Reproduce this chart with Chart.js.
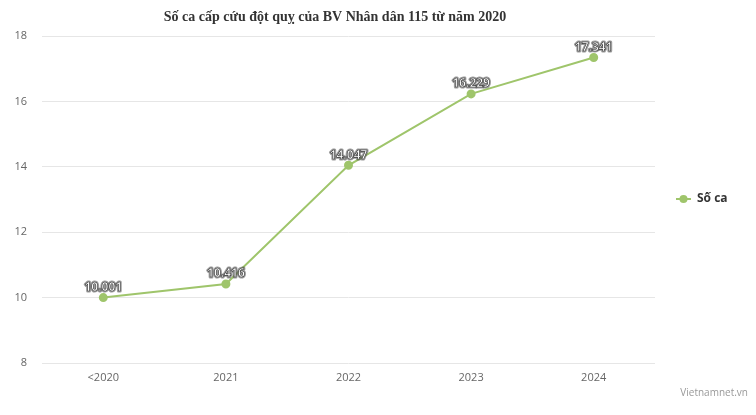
<!DOCTYPE html>
<html><head><meta charset="utf-8">
<script src="https://cdn.jsdelivr.net/npm/chart.js@4"></script>
<style>html,body{margin:0;padding:0;background:#fff}#wrap{width:756px;height:415px}</style>
</head><body><div id="wrap"><canvas id="c" width="756" height="415"></canvas></div>
<script>
const categories = ['<2020', '2021', '2022', '2023', '2024'];
const seriesName = 'Số ca';
const values = [10.001, 10.416, 14.047, 16.229, 17.341];
const yTicks = [8, 10, 12, 14, 16, 18];
const titleText = 'Số ca cấp cứu đột quỵ của BV Nhân dân 115 từ năm 2020';
const creditText = 'Vietnamnet.vn';
const lineColor = '#9fc56b';

const extras = {
  id: 'extras',
  afterDatasetsDraw(chart) {
    const ctx = chart.ctx;
    const meta = chart.getDatasetMeta(0);
    ctx.save();
    ctx.font = 'bold 12px "Open Sans", sans-serif';
    ctx.textAlign = 'center';
    ctx.textBaseline = 'middle';
    ctx.lineJoin = 'round';
    meta.data.forEach((pt, i) => {
      const t = values[i].toFixed(3);
      ctx.lineWidth = 3;
      ctx.strokeStyle = 'rgba(90,90,90,0.6)';
      ctx.strokeText(t, pt.x, pt.y - 10);
      ctx.fillStyle = '#fff';
      ctx.fillText(t, pt.x, pt.y - 10);
      ctx.lineWidth = 0.6;
      ctx.strokeStyle = '#333';
      ctx.strokeText(t, pt.x, pt.y - 10);
    });
    // title
    ctx.font = 'bold 14px "Liberation Serif", "Times New Roman", serif';
    ctx.fillStyle = '#333';
    ctx.fillText(titleText, 335, 17);
    // legend
    const ds = chart.data.datasets[0];
    ctx.strokeStyle = ds.borderColor;
    ctx.lineWidth = 2;
    ctx.beginPath(); ctx.moveTo(676, 199); ctx.lineTo(691, 199); ctx.stroke();
    ctx.fillStyle = ds.borderColor;
    ctx.beginPath(); ctx.arc(683.5, 199, 4, 0, Math.PI * 2); ctx.fill();
    ctx.font = 'bold 12px "Open Sans", sans-serif';
    ctx.fillStyle = '#333';
    ctx.textAlign = 'left';
    ctx.fillText(ds.label, 697, 199);
    // credit
    ctx.font = '10px "Open Sans", sans-serif';
    ctx.fillStyle = '#999';
    ctx.textAlign = 'right';
    ctx.fillText(creditText, 748, 393);
    ctx.restore();
  }
};

new Chart(document.getElementById('c'), {
  type: 'line',
  data: {
    labels: categories,
    datasets: [{
      label: seriesName,
      data: values,
      borderColor: lineColor,
      backgroundColor: lineColor,
      pointBackgroundColor: lineColor,
      pointBorderColor: lineColor,
      borderWidth: 2,
      pointRadius: 3.5,
      tension: 0,
      fill: false
    }]
  },
  options: {
    responsive: false,
    animation: false,
    devicePixelRatio: 1,
    layout: { padding: { top: 36, right: 101, left: 0, bottom: 0 } },
    plugins: { legend: { display: false }, title: { display: false }, tooltip: { enabled: false } },
    scales: {
      x: {
        offset: true,
        grid: { display: false, drawTicks: false },
        border: { display: false },
        ticks: { color: '#666', font: { size: 11, family: '"Open Sans", sans-serif' }, padding: 8 },
        afterFit(s) { s.height = 52; }
      },
      y: {
        min: 8, max: 18,
        afterBuildTicks(s) { s.ticks = yTicks.map(v => ({ value: v })); },
        grid: { color: '#e6e6e6', drawTicks: false },
        border: { display: false },
        ticks: { color: '#666', font: { size: 11, family: '"Open Sans", sans-serif' }, padding: 15 },
        afterFit(s) { s.width = 42; }
      }
    }
  },
  plugins: [extras]
});
</script></body></html>
